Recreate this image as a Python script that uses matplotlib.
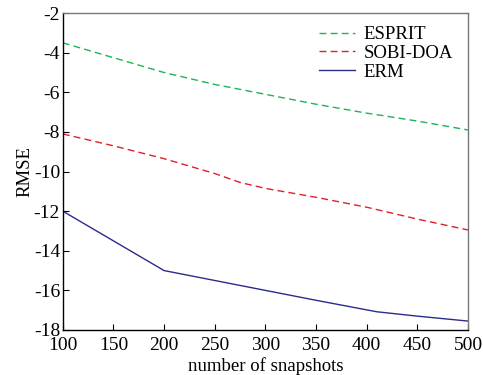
import numpy as np
import matplotlib
matplotlib.use('Agg')
import matplotlib.pyplot as plt

plt.rcParams['font.family'] = ['Liberation Serif', 'DejaVu Serif']
plt.rcParams['axes.unicode_minus'] = False

snap_esprit = [100, 150, 200, 250, 300, 350, 400, 450, 500]
esprit = [-3.5, -4.25, -5.0, -5.6, -6.1, -6.6, -7.05, -7.45, -7.9]

snap_sobi = [100, 150, 200, 250, 275, 300, 350, 400, 450, 500]
sobi = [-8.1, -8.7, -9.35, -10.1, -10.55, -10.85, -11.3, -11.8, -12.4, -12.95]

snap_erm = [100, 200, 250, 300, 350, 410, 450, 500]
erm = [-12.0, -15.0, -15.5, -16.0, -16.5, -17.08, -17.3, -17.55]

xticks = [100, 150, 200, 250, 300, 350, 400, 450, 500]
yticks = [-18, -16, -14, -12, -10, -8, -6, -4, -2]

fig = plt.figure(figsize=(4.83, 3.75), dpi=100)
ax = fig.add_axes([0.130, 0.12, 0.839, 0.845])

ax.plot(snap_esprit, esprit, '--', color='#1db456', lw=1.0, dashes=(5, 3), label='ESPRIT')
ax.plot(snap_sobi, sobi, '--', color='#e0202a', lw=1.0, dashes=(5, 3), label='SOBI-DOA')
ax.plot(snap_erm, erm, '-', color='#2b2b8c', lw=1.0, label='ERM')

ax.set_xlim(100, 500)
ax.set_ylim(-18, -2)
ax.set_xticks(xticks)
ax.set_yticks(yticks)
ax.tick_params(direction='in', length=4, labelsize=14, top=False, right=False)
ax.tick_params(axis='x', pad=5)
ax.tick_params(axis='y', pad=2)
ax.set_xlabel('number of snapshots', fontsize=13.5, labelpad=2)
ax.set_ylabel('RMSE', fontsize=13.5, labelpad=0)
for s in ax.spines.values():
    s.set_linewidth(1.0)
ax.spines['right'].set_color('#777777')
ax.spines['top'].set_color('#777777')

ax.legend(loc='upper right', frameon=False, fontsize=13.5, handlelength=1.95,
          handletextpad=0.45, labelspacing=0.08, borderaxespad=0.3,
          bbox_to_anchor=(0.995, 1.0))

fig.savefig('out.png', dpi=100)
